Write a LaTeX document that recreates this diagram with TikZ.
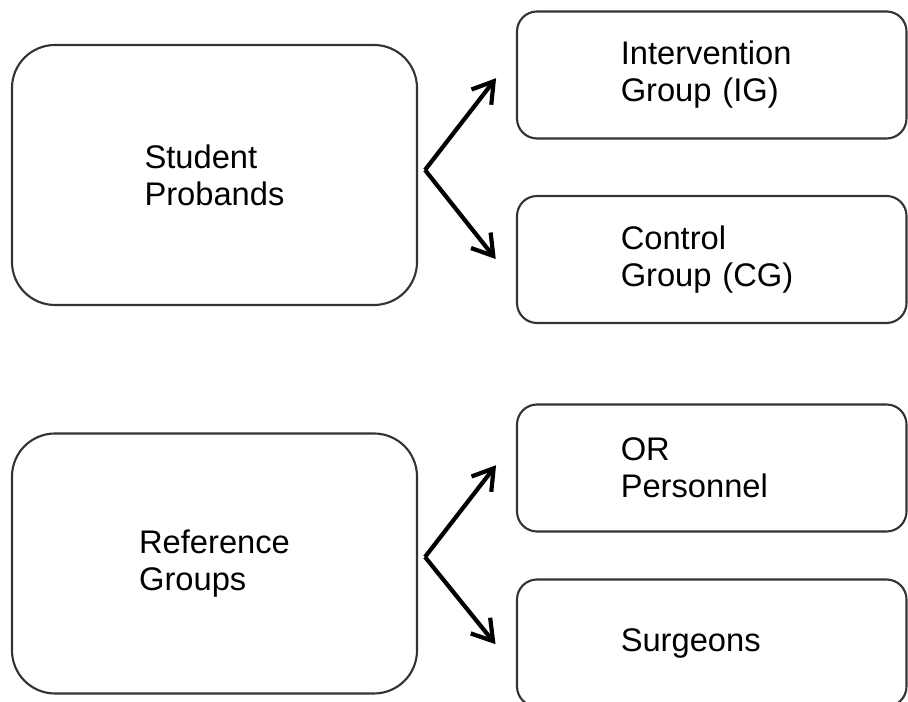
\documentclass[tikz,border=0pt]{standalone}
\usepackage{fontspec}
\setmainfont{Liberation Sans}
\usetikzlibrary{arrows.meta}

\begin{document}
\begin{tikzpicture}[line join=round,
  big box/.style={rectangle,rounded corners=.86cm,draw=black!80,line width=1.2pt,minimum width=8.1cm,minimum height=5.2cm,align=left,font=\fontsize{18.6pt}{21pt}\selectfont},
  small box/.style={rectangle,rounded corners=.4cm,draw=black!80,line width=1.2pt,minimum width=7.79cm,minimum height=2.54cm,text width=3.64cm,align=left,font=\fontsize{18.6pt}{21pt}\selectfont},
  fork arrow/.style={-{Straight Barb[length=.4cm,width=.5cm]},line width=2.4pt,shorten >=.65cm}]
\useasboundingbox (0,0) rectangle (18.16,14.04);
\clip (0,0) rectangle (18.16,14.04);
\begin{scope}
\node[big box] (sp) at (4.29,10.54) {Student\\Probands};
\node[big box] (rg) at (4.29,2.77) {Reference\\Groups};
\node[small box] (ig) at (14.235,12.54) {Intervention\\Group (IG)};
\node[small box] (cg) at (14.235,8.85) {Control\\Group (CG)};
\node[small box] (or) at (14.235,4.68) {OR\\Personnel};
\node[small box] (su) at (14.235,1.18) {Surgeons};
\coordinate (f1) at (8.5,10.64);
\coordinate (f2) at (8.5,2.90);
%\node[small box] () at (,) {};
\end{scope}
\begin{scope}
\draw (f1) edge[fork arrow] ([yshift=.45cm]ig.west);
\draw (f1) edge[fork arrow] ([yshift=-.5cm]cg.west);
\draw (f2) edge[fork arrow] ([yshift=.57cm]or.west);
\draw (f2) edge[fork arrow] ([yshift=-.53cm]su.west);
%\draw (f) edge (x);
\end{scope}
\end{tikzpicture}
\end{document}
